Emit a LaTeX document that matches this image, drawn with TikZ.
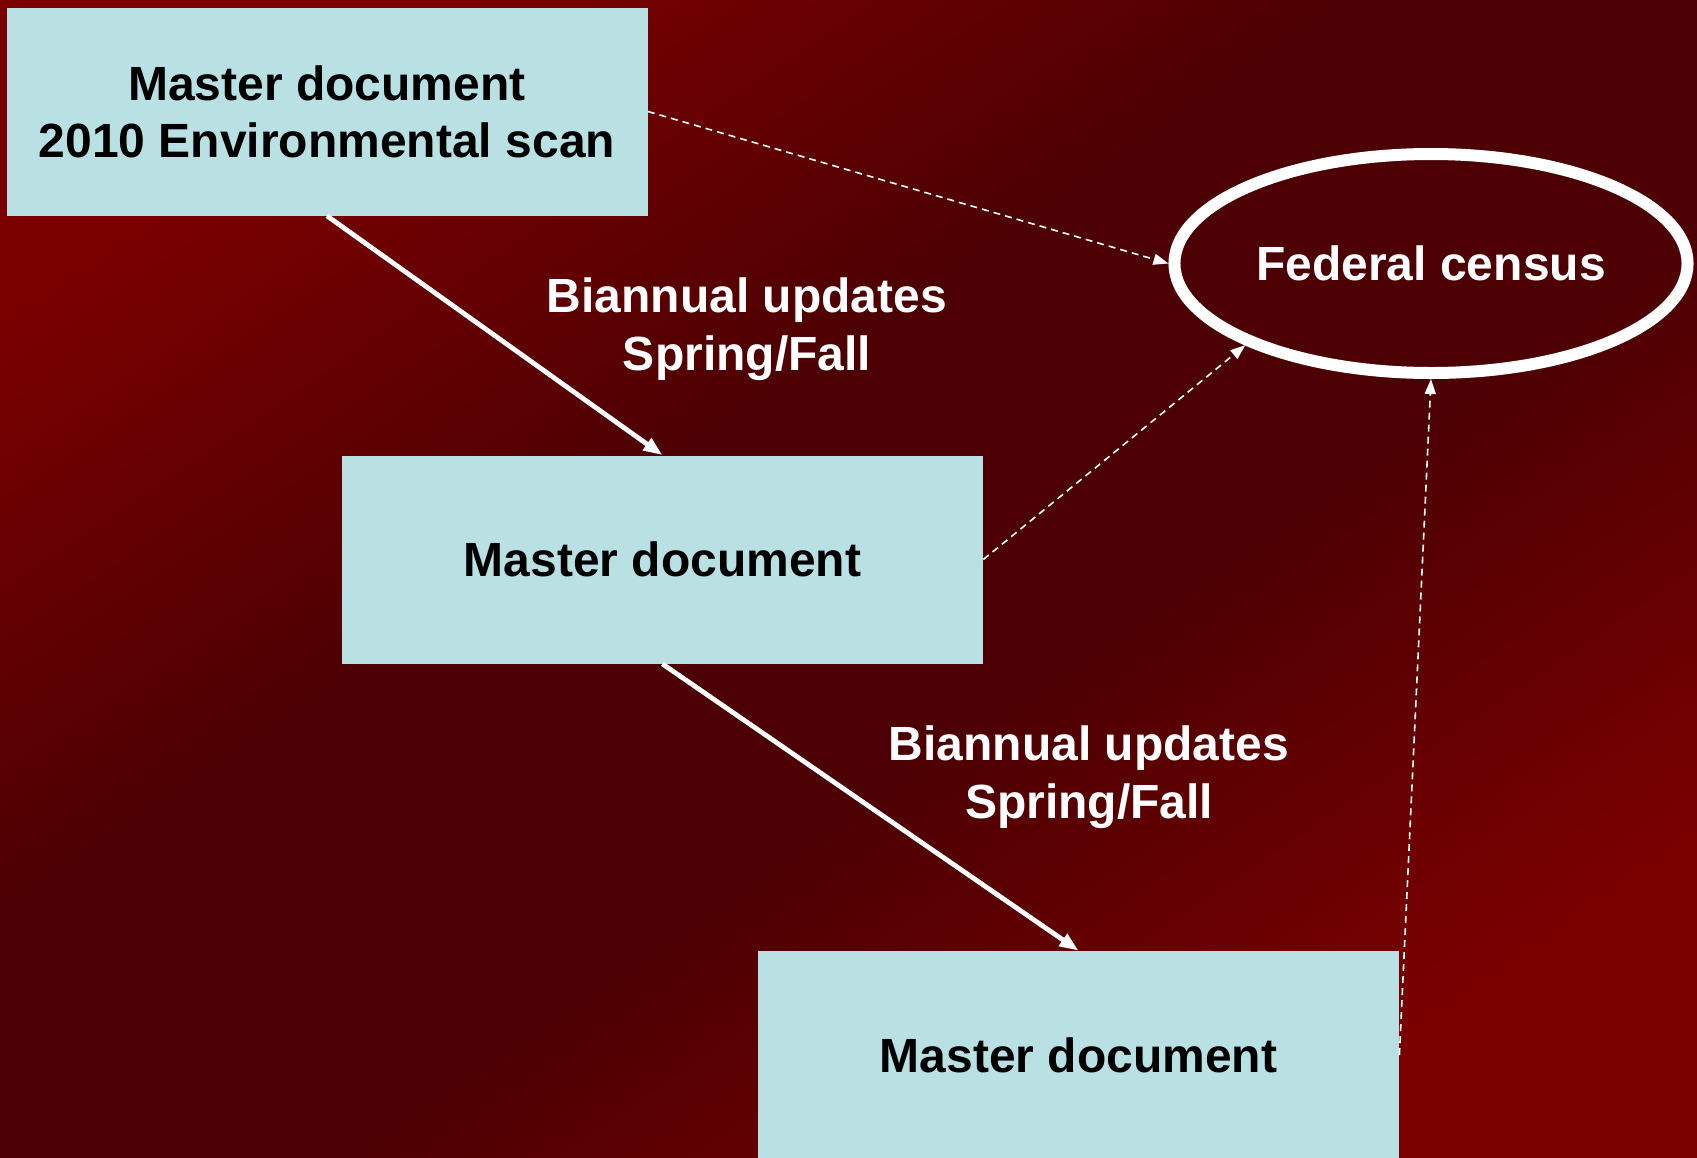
\documentclass[tikz,border=0pt]{standalone}
\usepackage{fontspec}
\setmainfont{Liberation Sans}
\usetikzlibrary{shapes.geometric,arrows.meta}
\definecolor{boxblue}{HTML}{B9E0E3}
\definecolor{bgbright}{HTML}{7A0000}
\definecolor{bgdark}{HTML}{4C0003}
\pgfdeclareverticalshading{backdrop}{100bp}{color(0bp)=(bgbright); color(25bp)=(bgbright);
  color(43bp)=(bgdark); color(57bp)=(bgdark); color(75bp)=(bgbright); color(100bp)=(bgbright)}
\newcommand*{\master}{Master document}
\newcommand*{\updates}{Biannual updates\\Spring/Fall}

\begin{document}
\begin{tikzpicture}[x=0.5pt, y=-0.5pt]
        \useasboundingbox (0,0) rectangle (1697,1157);
        \shade [shading=backdrop, shading angle=34] (0,0) rectangle (1697,1157);

        {\tikzstyle{every node}=[rectangle, fill=boxblue, inner sep=0pt,
            minimum width=320.5pt, minimum height=104pt, align=center,
            font=\fontsize{24}{28.5}\selectfont\bfseries]
          \node (m0) at (327,111.5) {\master\\2010 Environmental scan};
          \node (m1) at (662.4,559.5) {\master};
          \node (m2) at (1078.5,1055) {\master};
        }

        {\tikzstyle{every node}=[text=white, align=center,
            font=\fontsize{24}{29}\selectfont\bfseries]
          \node (u0) at (747,329) {\updates};
          \node (u1) at (1089,777) {\updates};
          \node (fed) [ellipse, draw=white, line width=6pt, minimum width=256pt,
            minimum height=109.5pt] at (1431,263.5) {Federal census};
        }

        \tikzstyle{update}=[white, line width=2.4pt, -{Triangle[length=9.5pt, width=7pt]}]
        \tikzstyle{report}=[white, line width=0.8pt, dash pattern=on 3.5pt off 2.5pt,
          -{Triangle[length=7.5pt, width=5.5pt]}]

        \foreach \i/\j in {0/1, 1/2}
        {
          \draw [update] (m\i.south) -- (m\j.north);
        }

        \foreach \i/\a in {0/west, 1/south west, 2/south}
        {
          \draw [report] (m\i.east) -- (fed.\a);
        }
      \end{tikzpicture}
\end{document}
